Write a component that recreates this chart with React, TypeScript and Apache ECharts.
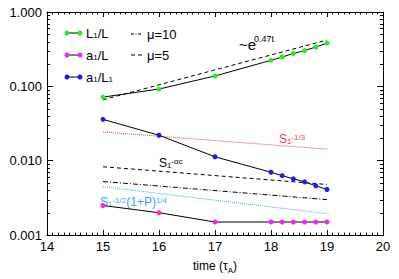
import React, { useEffect, useRef } from "react";
import * as echarts from "echarts";

const times = [15, 16, 17, 18, 18.2, 18.4, 18.6, 18.8, 19];
const L1L = [0.0717, 0.092, 0.138, 0.224, 0.248, 0.277, 0.303, 0.338, 0.381];
const a1L = [0.0025, 0.002, 0.0015, 0.0015, 0.0015, 0.0015, 0.0015, 0.0015, 0.0015];
const a1L1 = [0.036, 0.022, 0.0113, 0.007, 0.0063, 0.0057, 0.0052, 0.0046, 0.0041];

const refTimes = [15, 19];
const expFit = [0.066, 0.42];
const sOneThird = [0.0244, 0.0143];
const sAlphaC = [0.0083, 0.0048];
const mu10 = [0.00525, 0.003];
const sHalfP = [0.00448, 0.00194];

const xTicks = [14, 15, 16, 17, 18, 19, 20];
const yTickLabels = ["0.001", "0.010", "0.100", "1.000"];
const minorDecades = [0.001, 0.01, 0.1];
const minorMultipliers = [2, 3, 4, 5, 6, 7, 8, 9];

const FONT = "'Liberation Sans', Arial, Helvetica, sans-serif";

const pair = (xs: number[], ys: number[]) => xs.map((x, i) => [x, ys[i]]);

const richStyles = (color: string, base: number) => ({
  m: { fontSize: base, lineHeight: 18, fontFamily: FONT, fill: color, color, verticalAlign: "middle" },
  sup: { fontSize: 8, fontFamily: FONT, fill: color, color, verticalAlign: "top" },
  sub: { fontSize: 8, fontFamily: FONT, fill: color, color, verticalAlign: "bottom" },
});

const richText = (x: number, y: number, text: string, color: string, base = 12) => ({
  type: "text",
  x,
  y,
  style: {
    text,
    fill: color,
    font: `${base}px ${FONT}`,
    verticalAlign: "middle",
    align: "left",
    rich: richStyles(color, base),
  },
});

export default function App() {
  const ref = useRef<HTMLDivElement>(null);

  useEffect(() => {
    if (!ref.current) return;
    const chart = echarts.init(ref.current, null, { renderer: "svg" });

    const minorVals: number[][] = [];
    minorDecades.forEach((d) =>
      minorMultipliers.forEach((m) => minorVals.push([15, +(d * m).toPrecision(3)]))
    );

    const markerSeries = (name: string, ys: number[], color: string) => ({
      name,
      type: "line",
      data: pair(times, ys),
      symbol: "circle",
      symbolSize: 5,
      itemStyle: { color },
      lineStyle: { color: "#000", width: 1 },
      z: 5,
    });

    const refSeries = (name: string, ys: number[], color: string, type: any) => ({
      name,
      type: "line",
      data: pair(refTimes, ys),
      symbol: "none",
      lineStyle: { color, width: 1, type },
      z: 3,
    });

    const legendRow = (y: number, color: string, label: string) => [
      { type: "line", shape: { x1: 67, y1: y, x2: 80, y2: y }, style: { stroke: "#000", lineWidth: 1 } },
      { type: "circle", shape: { cx: 67, cy: y, r: 2.5 }, style: { fill: color } },
      { type: "circle", shape: { cx: 80, cy: y, r: 2.5 }, style: { fill: color } },
      richText(86, y, label, "#000", 13),
    ];

    const option: any = {
      animation: false,
      grid: { left: 47, right: 16, top: 12, bottom: 37 },
      xAxis: [
        {
          type: "value",
          min: 14,
          max: 20,
          interval: 1,
          name: "time (τ{sub|A})",
          nameLocation: "middle",
          nameGap: 17,
          nameTextStyle: {
            fontSize: 12,
            fontFamily: FONT,
            color: "#000",
            verticalAlign: "top",
            lineHeight: 16,
            rich: { sub: { fontSize: 8, fontFamily: FONT, color: "#000", verticalAlign: "bottom" } },
          },
          axisLine: { show: true, lineStyle: { color: "#000", width: 1 } },
          axisTick: { show: true, inside: true, length: 5, lineStyle: { color: "#000" } },
          minorTick: { show: true, splitNumber: 10, length: 2.5, lineStyle: { color: "#000" } },
          axisLabel: {
            fontSize: 13,
            fontFamily: FONT,
            color: "#000",
            margin: 5,
            formatter: (v: number) => (xTicks.includes(v) ? String(v) : ""),
          },
          splitLine: { show: false },
        },
        {
          type: "value",
          position: "top",
          min: 14,
          max: 20,
          interval: 1,
          axisLine: { show: true, lineStyle: { color: "#000", width: 1 } },
          axisTick: { show: true, inside: true, length: 5, lineStyle: { color: "#000" } },
          minorTick: { show: true, splitNumber: 10, length: 2.5, lineStyle: { color: "#000" } },
          axisLabel: { show: false },
          splitLine: { show: false },
        },
      ],
      yAxis: [
        {
          type: "log",
          logBase: 10,
          min: 0.001,
          max: 1,
          axisLine: { show: true, lineStyle: { color: "#000", width: 1 } },
          axisTick: { show: true, inside: true, length: 6, lineStyle: { color: "#000" } },
          axisLabel: {
            fontSize: 13,
            fontFamily: FONT,
            color: "#000",
            margin: 5,
            formatter: (v: number) => {
              const idx = Math.round(Math.log10(v)) + 3;
              return yTickLabels[idx] ?? "";
            },
          },
          splitLine: { show: false },
        },
        {
          type: "log",
          logBase: 10,
          min: 0.001,
          max: 1,
          position: "right",
          axisLine: { show: true, lineStyle: { color: "#000", width: 1 } },
          axisTick: { show: true, inside: true, length: 6, lineStyle: { color: "#000" } },
          axisLabel: { show: false },
          splitLine: { show: false },
        },
      ],
      series: [
        {
          type: "custom",
          name: "minorY",
          data: minorVals,
          silent: true,
          clip: false,
          z: 1,
          renderItem: (params: any, api: any) => {
            const cs = params.coordSys;
            const y = Math.round(api.coord([15, api.value(1)])[1]) + 0.5;
            return {
              type: "group",
              children: [
                { type: "line", shape: { x1: cs.x, y1: y, x2: cs.x + 3, y2: y }, style: { stroke: "#000", lineWidth: 1 } },
                { type: "line", shape: { x1: cs.x + cs.width - 3, y1: y, x2: cs.x + cs.width, y2: y }, style: { stroke: "#000", lineWidth: 1 } },
              ],
            };
          },
        },
        refSeries("expFit", expFit, "#000", [4, 3]),
        refSeries("S1^-1/3", sOneThird, "#ff3b3b", [1, 1]),
        refSeries("S1^-ac", sAlphaC, "#000", [4, 3]),
        refSeries("mu10", mu10, "#000", [5, 2, 1, 2]),
        refSeries("S1^-1/2(1+P)^1/4", sHalfP, "#3fa0ff", [1, 1]),
        markerSeries("L1/L", L1L, "#22ee22"),
        markerSeries("a1/L", a1L, "#ff22ee"),
        markerSeries("a1/L1", a1L1, "#1a1aff"),
      ],
      graphic: [
        ...legendRow(33, "#22ee22", "L{sub|1}/L"),
        ...legendRow(55, "#ff22ee", "a{sub|1}/L"),
        ...legendRow(77, "#1a1aff", "a{sub|1}/L{sub|1}"),
        { type: "line", shape: { x1: 131, y1: 34, x2: 142, y2: 34 }, style: { stroke: "#000", lineWidth: 1, lineDash: [3, 1.5, 1, 1.5] } },
        { type: "line", shape: { x1: 131, y1: 55, x2: 142, y2: 55 }, style: { stroke: "#000", lineWidth: 1, lineDash: [4, 3] } },
        { type: "text", x: 147, y: 34, style: { text: "μ=10", font: `13px ${FONT}`, fill: "#000", verticalAlign: "middle" } },
        { type: "text", x: 147, y: 55, style: { text: "μ=5", font: `13px ${FONT}`, fill: "#000", verticalAlign: "middle" } },
        { type: "text", x: 239, y: 44, style: { text: "~e", font: `15px ${FONT}`, fill: "#000", verticalAlign: "middle" } },
        { type: "text", x: 254, y: 38.5, style: { text: "0.47t", font: `9px ${FONT}`, fill: "#000", verticalAlign: "middle" } },
        richText(279, 139, "S{sub|1}{sup|-1/3}", "#ff3b3b", 12),
        richText(159, 163, "S{sub|1}{sup|-αc}", "#000", 12),
        richText(100, 202, "S{sub|1}{sup|-1/2}(1+P){sup|1/4}", "#3fa0ff", 12),
      ],
    };

    chart.setOption(option);
    return () => chart.dispose();
  }, []);

  return (
    <div
      ref={ref}
      style={{ position: "absolute", left: 0, top: 0, width: 399, height: 279 }}
    />
  );
}
